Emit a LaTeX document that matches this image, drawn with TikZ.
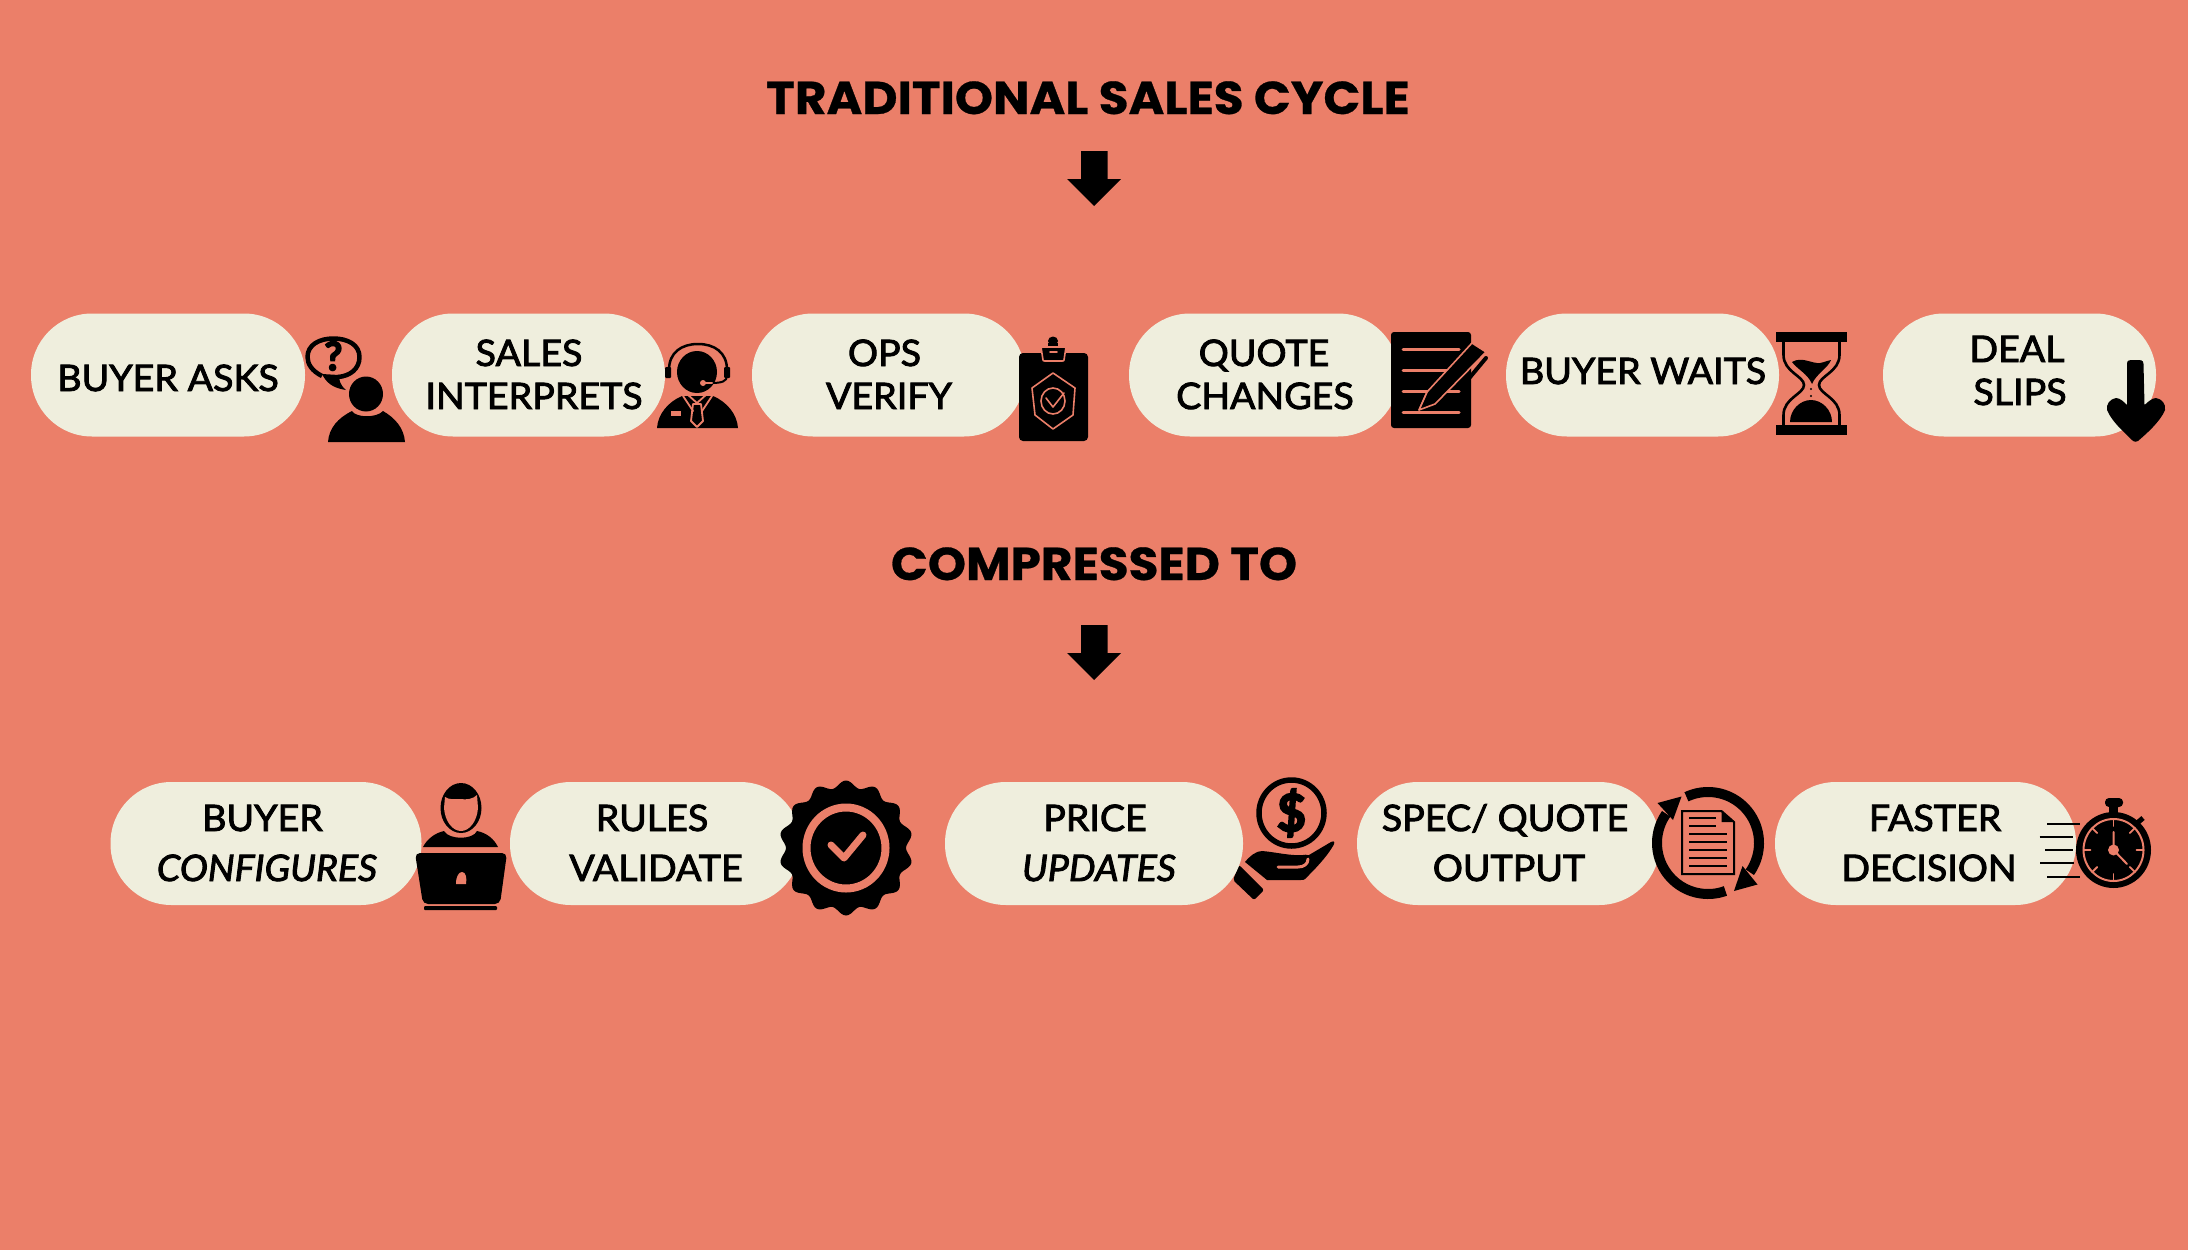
\documentclass[tikz,border=0pt]{standalone}
\usepackage{fontspec}
\setmainfont{Lato}[FakeBold=2.4,FakeStretch=1.03]
\newfontfamily\titlebold{Poppins Bold}[FakeStretch=1.055,FakeBold=0.6]
\newfontfamily\iconfont{Lato}[FakeBold=7]
\definecolor{bgsal}{HTML}{EB7F69}
\definecolor{pillc}{HTML}{EFEEDD}
\tikzset{
  x=1pt,y=-1pt,
  pillshape/.style={fill=pillc,draw=none,rounded corners=61pt,minimum height=123pt,inner sep=0pt},
  lbl/.style={anchor=base,inner sep=0pt,text=black,font=\fontsize{36.5}{40}\selectfont},
  lbli/.style={lbl,font=\fontsize{36.5}{40}\selectfont\itshape},
  ttl/.style={anchor=base,inner sep=0pt,text=black,font=\titlebold\fontsize{46}{50}\selectfont},
  ink/.style={fill=black,draw=none},
  cutl/.style={draw=bgsal,line width=#1,line cap=round,line join=round,fill=none},
  cutl/.default=2pt,
  inkl/.style={draw=black,line width=#1,fill=none},
  inkl/.default=3pt,
}
\begin{document}
\begin{tikzpicture}
\useasboundingbox (0,0) rectangle (2188,1250);
\fill[bgsal] (0,0) rectangle (2188,1250);

% hand cuff lies under the pill
\fill[ink,rounded corners=2pt] (1239,865) -- (1264,890) -- (1254,900) -- (1233,880) -- cycle;

% pills
\node[pillshape,minimum width=274pt] (p1) at (168,375) {};
\node[pillshape,minimum width=273pt] (p2) at (528.5,375) {};
\node[pillshape,minimum width=273pt] (p3) at (888.5,375) {};
\node[pillshape,minimum width=270pt] (p4) at (1264,375) {};
\node[pillshape,minimum width=273pt] (p5) at (1642.5,375) {};
\node[pillshape,minimum width=273pt] (p6) at (2019.5,375) {};
\node[pillshape,minimum width=311pt] (p7) at (266,843.5) {};
\node[pillshape,minimum width=291pt] (p8) at (655.5,843.5) {};
\node[pillshape,minimum width=298pt] (p9) at (1094,843.5) {};
\node[pillshape,minimum width=303pt] (p10) at (1508.5,843.5) {};
\node[pillshape,minimum width=301pt] (p11) at (1925.5,843.5) {};

% titles and arrows
\node[ttl] (t1) at (1088,114) {TRADITIONAL SALES CYCLE};
\node[ttl] (t2) at (1094,580) {COMPRESSED TO};
\fill[ink] (1081,151) -- (1107.5,151) -- (1107.5,179) -- (1121,179) -- (1094,206) -- (1067,179) -- (1081,179) -- cycle;
\fill[ink] (1081,625) -- (1107.5,625) -- (1107.5,653) -- (1121,653) -- (1094,680) -- (1067,653) -- (1081,653) -- cycle;

% labels
\node[lbl] (l1) at (168,391) {BUYER ASKS};
\node[lbl] (l2a) at (529,366) {SALES};
\node[lbl] (l2b) at (534,409) {INTERPRETS};
\node[lbl] (l3a) at (884.5,366) {OPS};
\node[lbl] (l3b) at (889,409) {VERIFY};
\node[lbl] (l4a) at (1264,366) {QUOTE};
\node[lbl] (l4b) at (1265,409) {CHANGES};
\node[lbl] (l5) at (1643,384) {BUYER WAITS};
\node[lbl] (l6a) at (2017,362) {DEAL};
\node[lbl] (l6b) at (2020,405) {SLIPS};
\node[lbl] (l7a) at (262.5,831) {BUYER};
\node[lbli] (l7b) at (267,881) {CONFIGURES};
\node[lbl] (l8a) at (652,831) {RULES};
\node[lbl] (l8b) at (656,881) {VALIDATE};
\node[lbl] (l9a) at (1095,831) {PRICE};
\node[lbli] (l9b) at (1099,881) {UPDATES};
\node[lbl] (l10a) at (1505,831) {SPEC/ QUOTE};
\node[lbl] (l10b) at (1509,881) {OUTPUT};
\node[lbl] (l11a) at (1935,831) {FASTER};
\node[lbl] (l11b) at (1929,881) {DECISION};

% icon: person asking
\draw[inkl=4.5pt,line join=round] (322,376) .. controls (312,371) and (307.5,364) .. (307.5,357)
  .. controls (307.5,345) and (319,338.5) .. (333.5,338.5)
  .. controls (348,338.5) and (359.5,345) .. (359.5,357)
  .. controls (359.5,369) and (350,376) .. (338,377);
\fill[ink] (322,374) .. controls (326,382) and (332,388) .. (346,390) .. controls (340,385) and (339,380) .. (339,375) -- cycle;
\node[inner sep=0pt,font=\iconfont\fontsize{38}{38}\selectfont] (qm) at (333.5,356) {?};
\fill[ink] (366,394) ellipse [x radius=17pt,y radius=17.5pt];
\fill[ink] (328,442) .. controls (329,428) and (338,418) .. (352,411) .. controls (356,418) and (377,418) .. (383,411)
  .. controls (395,418) and (404,428) .. (405,442) -- cycle;

% icon: headset agent
\fill[ink] (697,372) ellipse [x radius=20pt,y radius=21pt];
\draw[inkl=2.5pt] (669,370) .. controls (669,352) and (682,344) .. (698,344) .. controls (714,344) and (727,352) .. (727,370);
\fill[ink,rounded corners=1pt] (665,367) rectangle (671,378);
\fill[ink,rounded corners=1pt] (724,367) rectangle (730,378);
\draw[inkl=2pt] (727,376) .. controls (727,381) and (722,383) .. (712,383);
\draw[cutl=2pt] (704,383) -- (712,383);
\fill[bgsal] (703,383) ellipse [x radius=3pt,y radius=3pt];
\fill[ink] (657,428) .. controls (658,414) and (668,402) .. (682,396) -- (713,396) .. controls (727,402) and (737,414) .. (738,428) -- cycle;
\draw[cutl=1.8pt] (683,396) -- (693,411);
\draw[cutl=1.8pt] (712,396) -- (702,411);
\draw[cutl=1.8pt] (687,394) -- (697,403) -- (707,394);
\draw[cutl=1.8pt] (693,404) -- (701,404) -- (703,421) -- (697,427) -- (691,421) -- cycle;
\fill[bgsal] (671,411) rectangle (681,416);

% icon: clipboard
\fill[ink,rounded corners=4pt] (1019,353) rectangle (1088,441);
\fill[ink] (1053,341) ellipse [x radius=5pt,y radius=4.5pt];
\fill[ink] (1048,343) rectangle (1058,347);
\draw[cutl=1.6pt,fill=black] (1041,347) -- (1066,347) -- (1064,360) .. controls (1064,361) and (1063,361) .. (1062,361) -- (1045,361) .. controls (1044,361) and (1043,361) .. (1043,360) -- cycle;
\draw[cutl=1.6pt] (1050,352) -- (1057,352);
\draw[cutl=1.6pt] (1053,373) -- (1075,388) -- (1073,415) -- (1053,429) -- (1035,415) -- (1032,388) -- cycle;
\draw[cutl=1.6pt] (1053,401) ellipse [x radius=12pt,y radius=13pt];
\draw[cutl=1.6pt] (1046,398) -- (1053,407) -- (1064,393);

% icon: notepad and pen
\fill[ink,rounded corners=3pt] (1391,332) rectangle (1471,428);
\foreach \ly in {349,370,391,412}{\draw[cutl=3pt] (1403,\ly) -- (1459,\ly);}
\draw[draw=bgsal,line width=1.6pt,fill=black,line join=round] (1419,410) -- (1427,392) -- (1472,343) -- (1486,352) -- (1435,404) -- cycle;
\draw[draw=black,line width=4pt,line cap=round] (1486,358) -- (1466,382);
\draw[cutl=1.4pt] (1419,410) -- (1427,392);

% icon: hourglass
\fill[ink] (1776,332) rectangle (1847,342);
\fill[ink] (1776,425) rectangle (1847,435);
\draw[inkl=2.6pt] (1783.5,342) -- (1783.5,355) .. controls (1783.5,372) and (1804,376) .. (1804,385)
  .. controls (1804,394) and (1783.5,398) .. (1783.5,415) -- (1783.5,425);
\draw[inkl=2.6pt] (1839.5,342) -- (1839.5,355) .. controls (1839.5,372) and (1819,376) .. (1819,385)
  .. controls (1819,394) and (1839.5,398) .. (1839.5,415) -- (1839.5,425);
\fill[ink] (1792,362) .. controls (1802,356) and (1812,364) .. (1820,363) .. controls (1826,362) and (1828,360) .. (1831,360)
  .. controls (1828,368) and (1816,374) .. (1812,384) .. controls (1808,374) and (1797,369) .. (1792,362) -- cycle;
\fill[ink] (1790,422) .. controls (1790,410) and (1800,400) .. (1811,400) .. controls (1822,400) and (1832,410) .. (1832,422) -- cycle;
\fill[ink] (1811,389) circle (1.2pt);
\fill[ink] (1811,396) circle (1.2pt);

% icon: down arrow
\fill[ink] (2127,364) .. controls (2127,360) and (2129,360) .. (2135,360) .. controls (2142,360) and (2143,360) .. (2143.5,364)
  -- (2144.5,405) .. controls (2148,402) and (2152,398) .. (2156,398) .. controls (2162,399) and (2166,404) .. (2165,410)
  .. controls (2160,422) and (2146,434) .. (2138,441) .. controls (2136,442) and (2135,442) .. (2133,441)
  .. controls (2124,432) and (2112,422) .. (2107,410) .. controls (2106,404) and (2110,399) .. (2116,398)
  .. controls (2120,398) and (2124,402) .. (2127,405) -- cycle;

% icon: person at laptop
\fill[ink] (461,808) ellipse [x radius=20.5pt,y radius=25pt];
\fill[bgsal] (445,797) .. controls (449,800) and (455,799) .. (460,799) .. controls (467,800) and (473,799) .. (477,795)
  -- (478,808) .. controls (477,822) and (469,831) .. (461,831) .. controls (453,831) and (445,822) .. (444,808) -- cycle;
\fill[ink] (423,847) .. controls (427,839) and (435,833) .. (444,831) .. controls (449,840) and (473,840) .. (477,831)
  .. controls (487,833) and (494,839) .. (498,847) -- cycle;
\fill[ink,rounded corners=5pt] (415,853) -- (507,853) -- (500,904) -- (423,904) -- cycle;
\fill[bgsal] (456,884) .. controls (456,876) and (459,872) .. (462,872) .. controls (466,872) and (467,878) .. (466,884) -- cycle;
\fill[ink,rounded corners=1pt] (424,906) rectangle (497,910);

% icon: validated badge
\fill[ink] plot[domain=0:360,samples=169,smooth] ({846+(63.5+3.5*cos(14*\x))*sin(\x)},{848-(64+3.5*cos(14*\x))*cos(\x)}) -- cycle;
\draw[draw=bgsal,line width=8pt] (846,848) ellipse [x radius=39.5pt,y radius=40.5pt];
\draw[cutl=7pt] (831,845) -- (844,858) -- (863,835);

% icon: hand with coin
\draw[inkl=5.5pt] (1291.5,813) ellipse [x radius=32.5pt,y radius=33pt];
\node[inner sep=0pt,font=\iconfont\fontsize{50}{50}\selectfont] (dollar) at (1291.5,813) {\$};
\fill[ink] (1245,862) .. controls (1250,856) and (1256,851) .. (1262,851) .. controls (1275,852) and (1290,856) .. (1303,855)
  .. controls (1307,854) and (1309,856) .. (1309,855) -- (1331,842) .. controls (1335,840) and (1335,843) .. (1333,846)
  .. controls (1326,858) and (1314,870) .. (1305,879) .. controls (1304,880) and (1303,880) .. (1301,880) -- (1267,880) -- cycle;
\draw[cutl=3pt] (1278,867) -- (1298,867) .. controls (1304,867) and (1308,864) .. (1308,859);

% icon: document in cycle
\draw[inkl=10pt] plot[domain=245:395,samples=50] ({1708+51*cos(\x)},{843+51*sin(\x)});
\fill[ink] (1734,891) -- (1757.5,884.5) -- (1742.5,866) -- cycle;
\draw[inkl=10pt] plot[domain=70:215,samples=50] ({1708+51*cos(\x)},{843+51*sin(\x)});
\fill[ink] (1681.5,796.5) -- (1657.5,803) -- (1673,820) -- cycle;
\draw[inkl=2pt] (1682,811) -- (1721.5,811) -- (1734,822) -- (1734,874) -- (1682,874) -- cycle;
\fill[ink] (1721.5,811) -- (1721.5,822) -- (1734,822) -- cycle;
\foreach \ly in {818,826}{\draw[inkl=1.8pt] (1689,\ly) -- (1716,\ly);}
\foreach \ly in {834,842,850,858,866}{\draw[inkl=1.8pt] (1689,\ly) -- (1727,\ly);}

% icon: stopwatch
\foreach \ly/\lx/\rx in {824/2047/2080,837/2039.5/2073,850/2045/2073,863/2040/2074,877/2047/2080}{\draw[inkl=2.4pt] (\lx,\ly) -- (\rx,\ly);}
\fill[ink] (2113.5,850) ellipse [x radius=37.5pt,y radius=38pt];
\fill[ink] (2109,805) rectangle (2118,815);
\fill[ink,rounded corners=4pt] (2105,798) rectangle (2123,807);
\draw[draw=black,line width=5pt] (2136,824) -- (2143,818);
\draw[cutl=2pt] (2113.5,850) ellipse [x radius=30pt,y radius=31pt];
\foreach \a in {0,45,...,315}{\draw[cutl=1.8pt] ({2113.5+23*cos(\a)},{850+24*sin(\a)}) -- ({2113.5+30*cos(\a)},{850+31*sin(\a)});}
\draw[cutl=2pt] (2113.5,832) -- (2113.5,850) -- (2127,864);
\fill[bgsal] (2113.5,850) circle (5.5pt);
\end{tikzpicture}
\end{document}
